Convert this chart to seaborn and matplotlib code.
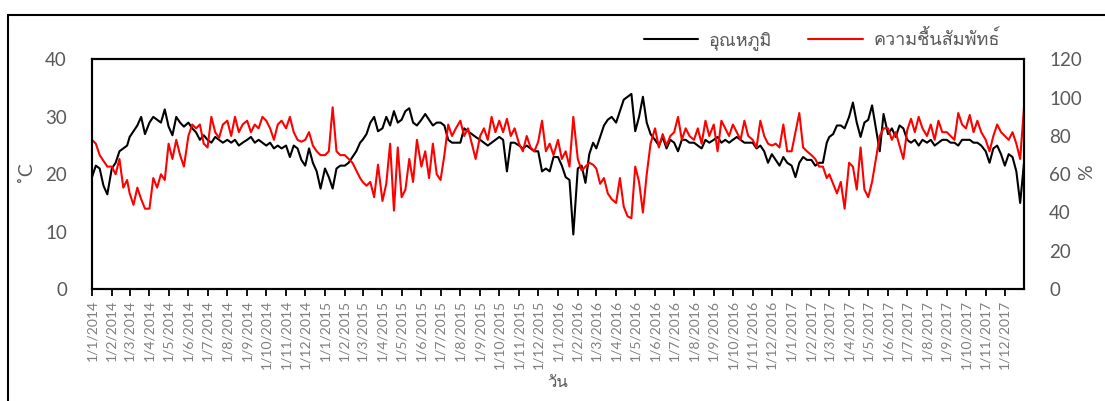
import matplotlib
matplotlib.use("Agg")
import matplotlib.pyplot as plt
import seaborn as sns
import pandas as pd
from matplotlib import font_manager, ft2font
from matplotlib.lines import Line2D

# ---------------- data (~5 samples per month) ----------------
years = [2014, 2015, 2016, 2017]
sample_days = [1, 7, 13, 19, 25]

temp_2014 = [19.5, 21.5, 21, 18, 16.5,
             21, 22, 24, 24.5, 25,
             26.5, 27.5, 28.5, 30, 27,
             29, 30, 29.5, 29, 31.3,
             28.3, 26.8, 30, 29, 28.3,
             29, 28, 27.3, 26, 26.8,
             26, 25.5, 26.5, 26, 25.5,
             26, 25.5, 26, 25, 25.5,
             26, 26.5, 25.5, 26, 25.5,
             25, 25.5, 24.5, 25, 24.5,
             25, 23, 25, 24.5, 22.5,
             21.5, 24.5, 22, 20.5, 17.5]
hum_2014 = [78, 76, 70, 67, 64,
            64, 60, 68, 53, 57,
            50, 44, 53, 47, 42,
            42, 58, 53, 60, 57,
            76, 68, 78, 70, 64,
            80, 86, 84, 86, 76,
            74, 90, 82, 79, 86,
            88, 80, 90, 82, 86,
            88, 82, 86, 84, 90,
            88, 84, 78, 86, 88,
            84, 90, 82, 78, 77,
            78, 82, 75, 72, 70]

temp_2015 = [21, 19.5, 17.5, 21, 21.5,
             21.5, 22, 23, 24, 25.5,
             26, 27, 29, 30, 27.5,
             28, 30, 28.5, 31, 29,
             29.5, 31, 31.5, 29, 28.5,
             29.5, 30.5, 29.5, 28.5, 29,
             29, 28.5, 26, 25.5, 25.5,
             25.5, 28, 27.5, 27, 26.5,
             26, 25.5, 25, 25.5, 26,
             26.5, 26, 20.5, 25.5, 25.5,
             25, 24.5, 25, 24.5, 24,
             24, 20.5, 21, 20.5, 23]
hum_2015 = [70, 72, 95, 72, 70,
            70, 68, 66, 62, 58,
            56, 54, 56, 48, 65,
            46, 55, 76, 41, 74,
            48, 52, 68, 56, 78,
            64, 72, 58, 76, 60,
            57, 70, 86, 80, 84,
            88, 80, 84, 76, 68,
            80, 84, 78, 90, 82,
            88, 82, 89, 80, 84,
            76, 72, 80, 74, 72,
            77, 88, 72, 76, 70]

temp_2016 = [23, 21.5, 19.5, 19, 9.5,
             21, 21.5, 18.5, 23.5, 25.5,
             24.5, 26.5, 28.5, 29.5, 30,
             29, 31, 33, 33.5, 34,
             27.5, 30, 33.5, 29, 27,
             26, 25, 26.5, 24.5, 26,
             25.5, 24, 26, 26, 25.5,
             25.5, 25, 24.5, 26, 25.5,
             26, 26.5, 25.5, 26, 25.5,
             26, 26.5, 26, 25.5, 25.5,
             25.5, 24.5, 25, 24, 22,
             23.5, 22.5, 21.5, 23, 22]
hum_2016 = [78, 68, 72, 64, 90,
            68, 62, 64, 66, 65,
            63, 55, 58, 50, 47,
            45, 58, 43, 38, 37,
            64, 56, 40, 60, 76,
            84, 74, 81, 75, 80,
            82, 90, 78, 84, 80,
            78, 84, 76, 88, 80,
            86, 72, 88, 84, 80,
            86, 82, 78, 88, 80,
            78, 74, 88, 80, 76,
            75, 76, 74, 86, 72]

temp_2017 = [21.5, 19.5, 22, 23, 22.5,
             22.5, 21.5, 22, 22, 25.5,
             26.5, 27, 28.5, 28.5, 28,
             30, 32.5, 29, 26.5, 29,
             29.5, 32, 28, 24, 30.5,
             27, 28, 26.5, 28.5, 28,
             26, 25.5, 26, 25, 26,
             25.5, 26, 25, 25.5, 26,
             26, 25.5, 25.5, 25, 26,
             26, 26, 25.5, 25.5, 25,
             24, 22, 24.5, 25, 23.5,
             21.5, 23.5, 23, 20.5, 15]
hum_2017 = [72, 82, 92, 74, 72,
            70, 68, 64, 64, 58,
            60, 55, 50, 56, 42,
            66, 64, 52, 74, 52,
            48, 56, 68, 80, 84,
            84, 78, 82, 75, 68,
            83, 89, 82, 90, 84,
            80, 86, 78, 88, 82,
            82, 80, 78, 92, 86,
            84, 91, 82, 88, 82,
            78, 72, 80, 86, 82,
            80, 78, 82, 76, 68]

last_date = "2017-12-31"
last_temp = 22
last_hum = 95

series_names = ["อุณหภูมิ", "ความชื้นสัมพัทธ์"]
x_title = "วัน"
left_title = "˚C"
right_title = "%"
left_ticks = [0, 10, 20, 30, 40]
right_ticks = [0, 20, 40, 60, 80, 100, 120]

# ---------------- build frame ----------------
dates = [pd.Timestamp(y, m, d) for y in years for m in range(1, 13) for d in sample_days]
dates.append(pd.Timestamp(last_date))
temps = temp_2014 + temp_2015 + temp_2016 + temp_2017 + [last_temp]
hums = hum_2014 + hum_2015 + hum_2016 + hum_2017 + [last_hum]
df = pd.DataFrame({"date": dates, "temp": temps, "hum": hums})

# ---------------- fonts ----------------
sns.set_theme(style="white")


def find_thai_family():
    found = []
    for f in font_manager.fontManager.ttflist:
        try:
            cmap = ft2font.FT2Font(f.fname).get_charmap()
        except Exception:
            continue
        if 0x0E2D in cmap and 0x0E39 in cmap and 0x0E31 in cmap:
            found.append(f.name)
    return found[0] if found else "DejaVu Sans"


thai_family = find_thai_family()
base_family = "Lato"
plt.rcParams["font.family"] = [base_family, thai_family, "DejaVu Sans"]

GRAY = "#595959"

W, H = 1105, 401
fig = plt.figure(figsize=(W / 100, H / 100), dpi=100)
fig.patch.set_facecolor("white")

left_px, right_px, top_px, bot_px = 92, 1024, 59.5, 289
ax = fig.add_axes([left_px / W, 1 - bot_px / H, (right_px - left_px) / W, (bot_px - top_px) / H])
ax2 = ax.twinx()

sns.lineplot(data=df, x="date", y="temp", ax=ax, color="black", linewidth=1.5, label=series_names[0], legend=False)
sns.lineplot(data=df, x="date", y="hum", ax=ax2, color="#ff0000", linewidth=1.5, label=series_names[1], legend=False)

ax.set_xlim(pd.Timestamp("2014-01-01"), pd.Timestamp("2017-12-31"))
ax.set_ylim(0, 40)
ax2.set_ylim(0, 120)
ax.set_yticks(left_ticks)
ax2.set_yticks(right_ticks)

month_starts = pd.date_range("2014-01-01", "2017-12-01", freq="MS")
ax.set_xticks(month_starts)
ax.set_xticklabels([f"{d.day}/{d.month}/{d.year}" for d in month_starts])
ax.tick_params(axis="x", direction="out", length=5, width=1.3, color="black",
               labelsize=10, labelcolor="#7f7f7f", rotation=90, pad=3, bottom=True)
ax.tick_params(axis="y", length=0, labelsize=13.5, labelcolor=GRAY, pad=18)
ax2.tick_params(axis="y", length=0, labelsize=13.5, labelcolor=GRAY, pad=18)

for a in (ax, ax2):
    for s in a.spines.values():
        s.set_color("black")
        s.set_linewidth(1.5)
    a.grid(False)

ax.set_xlabel("")
ax.set_ylabel(left_title, fontsize=14, color=GRAY, rotation=90)
ax.yaxis.set_label_coords(-0.062, 0.51)
ax2.set_ylabel(right_title, fontsize=14, color=GRAY, rotation=90)
ax2.yaxis.set_label_coords(1.058, 0.51)

fig.text(558 / W, 1 - 383 / H, x_title, ha="center", va="center", fontsize=12, color=GRAY,
         family=[thai_family, "DejaVu Sans"])

handles = [Line2D([], [], color="black", lw=1.5), Line2D([], [], color="#ff0000", lw=1.5)]
leg = fig.legend(handles, series_names, loc="center", bbox_to_anchor=(822 / W, 1 - 40 / H), ncol=2,
                 frameon=False, handlelength=3.0, columnspacing=2.0, handletextpad=0.6,
                 prop={"family": [thai_family, "DejaVu Sans"], "size": 13})
for t in leg.get_texts():
    t.set_color(GRAY)

# outer chart-area frame
fig.add_artist(Line2D([8 / W, 1.0], [1 - 15 / H, 1 - 15 / H], transform=fig.transFigure, color="black", lw=1.5))
fig.add_artist(Line2D([8 / W, 8 / W], [0.0, 1 - 15 / H], transform=fig.transFigure, color="black", lw=1.5))

fig.savefig("out.png", dpi=100, facecolor="white")
